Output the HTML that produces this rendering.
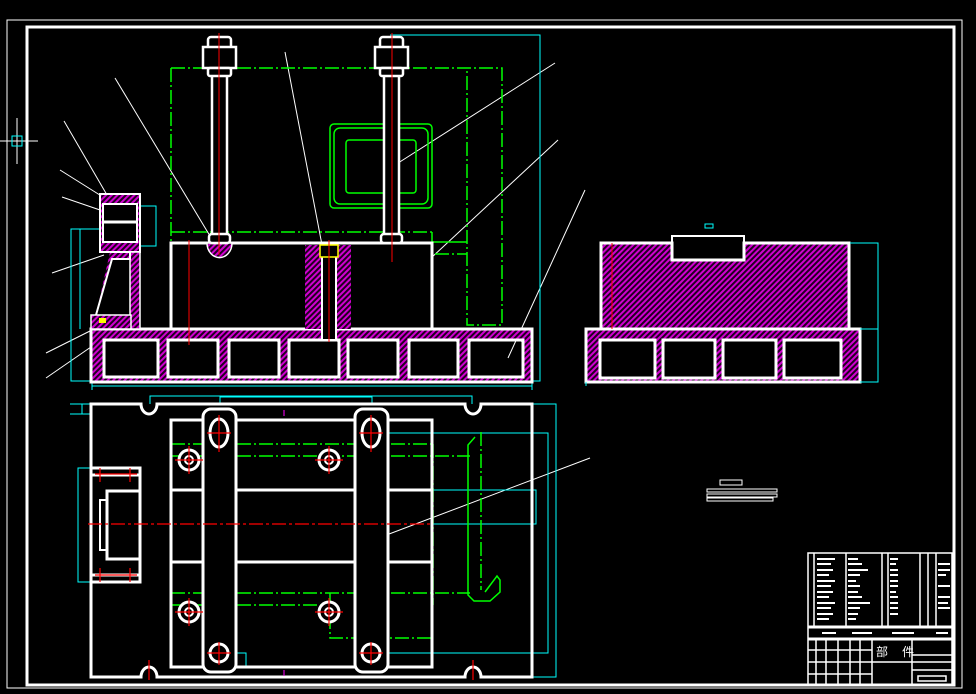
<!DOCTYPE html>
<html><head><meta charset="utf-8"><style>html,body{margin:0;padding:0;background:#000;}svg{display:block}</style></head>
<body>
<svg width="976" height="694" viewBox="0 0 976 694" xmlns="http://www.w3.org/2000/svg">
<defs>
<pattern id="h" width="4" height="4" patternUnits="userSpaceOnUse" patternTransform="rotate(45)">
<rect width="4" height="4" fill="#200020"/><rect width="2" height="4" fill="#d000d0"/>
</pattern>
</defs>
<rect width="976" height="694" fill="#000"/>
<!-- borders -->
<rect x="7" y="20" width="955" height="668" fill="none" stroke="#fff" stroke-width="1"/>
<rect x="27" y="27" width="927" height="658" fill="none" stroke="#fff" stroke-width="3"/>
<line x1="0" y1="141" x2="38" y2="141" stroke="#fff"/><line x1="17" y1="118" x2="17" y2="164" stroke="#fff"/>
<rect x="12" y="136" width="10" height="10" fill="none" stroke="#0ff"/>

<g fill="none" stroke="#fff" stroke-width="1">
<line x1="115" y1="78" x2="210" y2="236"/><line x1="285" y1="52" x2="322" y2="245"/>
<line x1="555" y1="63" x2="395" y2="165"/><line x1="558" y1="140" x2="402" y2="285"/>
<line x1="585" y1="190" x2="508" y2="358"/>
<line x1="64" y1="121" x2="107" y2="195"/><line x1="60" y1="170" x2="103" y2="197"/>
<line x1="62" y1="197" x2="100" y2="210"/><line x1="52" y1="273" x2="104" y2="255"/>
<line x1="46" y1="353" x2="92" y2="330"/><line x1="46" y1="378" x2="104" y2="338"/>
<line x1="590" y1="458" x2="368" y2="542"/>
</g>

<g fill="none" stroke="#0f0" stroke-width="1.5" stroke-dasharray="14,3,2,3">
<path d="M171 68 H502 V325 H467 V68"/><line x1="171" y1="68" x2="171" y2="243"/>
<line x1="171" y1="232" x2="433" y2="232"/><line x1="171" y1="254" x2="467" y2="254"/>
</g>
<g fill="none" stroke="#0f0" stroke-width="1.5">
<rect x="330" y="124" width="102" height="84" rx="4"/><rect x="334" y="128" width="94" height="76" rx="6"/>
<rect x="346" y="140" width="70" height="53" rx="3"/>
<path d="M432 232 V242 H467"/>
</g>

<g fill="none" stroke="#0ff" stroke-width="1">
<path d="M390 35 H540 V381 H532"/><line x1="92" y1="386" x2="532" y2="386"/>
<line x1="92" y1="382" x2="92" y2="390"/><line x1="532" y1="382" x2="532" y2="390"/>
<path d="M104 229 H71 V381 H92"/><line x1="80" y1="229" x2="80" y2="329"/>
<rect x="138" y="206" width="18" height="40"/>
</g>

<path d="M91 329 H532 V382 H91 Z M104 340 V377 H158 V340 Z M168 340 V377 H218 V340 Z M229 340 V377 H279 V340 Z M289 340 V377 H339 V340 Z M348 340 V377 H398 V340 Z M409 340 V377 H458 V340 Z M469 340 V377 H523 V340 Z" fill="url(#h)" fill-rule="evenodd" stroke="#fff" stroke-width="3"/>
<g fill="none" stroke="#fff" stroke-width="2.5">
<rect x="104" y="340" width="54" height="37" rx="3"/><rect x="168" y="340" width="50" height="37" rx="3"/>
<rect x="229" y="340" width="50" height="37" rx="3"/><rect x="289" y="340" width="50" height="37" rx="3"/>
<rect x="348" y="340" width="50" height="37" rx="3"/><rect x="409" y="340" width="49" height="37" rx="3"/>
<rect x="469" y="340" width="54" height="37" rx="3"/>
</g>
<rect x="171" y="243" width="261" height="86" fill="#000" stroke="#fff" stroke-width="3"/>
<rect x="305" y="245" width="46" height="84" fill="url(#h)"/>
<rect x="322" y="245" width="14" height="95" fill="#000" stroke="#fff" stroke-width="2"/>
<rect x="320" y="245" width="18" height="12" fill="#000" stroke="#ff0" stroke-width="1.5"/>
<path d="M207 243 A12 14 0 0 0 232 243 Z" fill="url(#h)" stroke="#fff" stroke-width="1.5"/>
<g fill="#000" stroke="#fff" stroke-width="2.5">
<rect x="212" y="60" width="15" height="183"/><rect x="384" y="60" width="15" height="183"/>
<rect x="208" y="37" width="23" height="13" rx="3"/><rect x="380" y="37" width="23" height="13" rx="3"/>
<rect x="203" y="47" width="33" height="21"/><rect x="375" y="47" width="33" height="21"/>
<rect x="208" y="68" width="23" height="8" rx="2"/><rect x="380" y="68" width="23" height="8" rx="2"/>
<rect x="209" y="234" width="21" height="9" rx="3"/><rect x="381" y="234" width="21" height="9" rx="3"/>
</g>
<g stroke="#f00" stroke-width="1"><line x1="219" y1="33" x2="219" y2="255"/><line x1="392" y1="33" x2="392" y2="262"/><line x1="329" y1="240" x2="329" y2="342"/><line x1="189" y1="240" x2="189" y2="345"/></g>
<rect x="100" y="194" width="40" height="58" fill="url(#h)" stroke="#fff" stroke-width="2"/>
<rect x="103" y="204" width="34" height="38" fill="#000" stroke="#fff" stroke-width="2"/>
<line x1="103" y1="222" x2="137" y2="222" stroke="#fff" stroke-width="3"/>
<rect x="130" y="252" width="10" height="77" fill="url(#h)" stroke="#fff" stroke-width="1.5"/>
<path d="M110 252 H130 V259 H112 L96 315" fill="url(#h)" stroke="#fff" stroke-width="2"/>
<rect x="91" y="315" width="40" height="14" fill="url(#h)" stroke="#fff" stroke-width="1.5"/>
<rect x="99" y="318" width="7" height="5" fill="#ff0"/>

<path d="M601 243 H672 V260 H744 V243 H849 V329 H601 Z" fill="url(#h)" stroke="#fff" stroke-width="3"/>
<rect x="672" y="236" width="72" height="24" fill="none" stroke="#fff" stroke-width="2"/>
<path d="M586 329 H860 V382 H586 Z M600 340 V378 H655 V340 Z M663 340 V378 H715 V340 Z M723 340 V378 H776 V340 Z M784 340 V378 H841 V340 Z" fill="url(#h)" fill-rule="evenodd" stroke="#fff" stroke-width="3"/>
<g fill="none" stroke="#fff" stroke-width="2.5"><rect x="600" y="340" width="55" height="38" rx="3"/><rect x="663" y="340" width="52" height="38" rx="3"/><rect x="723" y="340" width="53" height="38" rx="3"/><rect x="784" y="340" width="57" height="38" rx="3"/></g>
<g fill="none" stroke="#0ff"><path d="M850 243 H878 V329 H860"/><path d="M860 329 H878 V382 H860"/><line x1="586" y1="382" x2="586" y2="386"/><rect x="705" y="224" width="8" height="4"/></g>
<line x1="612" y1="243" x2="612" y2="329" stroke="#f00"/>

<g fill="none" stroke="#0ff">
<path d="M150 404 V396 H472 V404"/><path d="M220 404 V397 H372 V404"/>
<path d="M91 404 H70 M82 404 V414 M70 414 H91"/>
<path d="M91 468 H78 V582 H91"/>
<path d="M532 404 H556 V677 H532"/><path d="M371 433 H548 V653 H371"/>
<path d="M432 490 H536 V524 H432"/><path d="M236 653 H246 V666"/>
</g>
<g fill="none" stroke="#0f0" stroke-width="1.5" stroke-dasharray="14,3,2,3">
<line x1="171" y1="444" x2="432" y2="444"/><line x1="171" y1="456" x2="470" y2="456"/>
<line x1="171" y1="593" x2="470" y2="593"/><line x1="171" y1="605" x2="330" y2="605"/>
<path d="M330 593 V638 H432"/><line x1="433" y1="444" x2="433" y2="605"/>
<line x1="481" y1="432" x2="481" y2="590"/>
</g>
<path d="M475 437 L468 445 V595 L474 601 H490 L500 592 V580 L497 576 L485 592" fill="none" stroke="#0f0" stroke-width="1.5"/>
<path d="M91 404 H141 A8 10 0 0 0 157 404 H465 A8 10 0 0 0 481 404 H532 V677 H481 A8 10 0 0 0 465 677 H157 A8 10 0 0 0 141 677 H91 Z" fill="none" stroke="#fff" stroke-width="3"/>
<rect x="171" y="420" width="261" height="247" fill="none" stroke="#fff" stroke-width="3"/>
<line x1="171" y1="490" x2="432" y2="490" stroke="#fff" stroke-width="3"/><line x1="171" y1="562" x2="432" y2="562" stroke="#fff" stroke-width="3"/>
<rect x="203" y="409" width="33" height="263" rx="8" fill="#000" stroke="#fff" stroke-width="3"/>
<rect x="355" y="409" width="33" height="263" rx="8" fill="#000" stroke="#fff" stroke-width="3"/>
<rect x="91" y="468" width="49" height="114" fill="none" stroke="#fff" stroke-width="3"/>
<rect x="107" y="491" width="33" height="68" fill="none" stroke="#fff" stroke-width="3"/>
<rect x="100" y="500" width="7" height="50" fill="none" stroke="#fff" stroke-width="2"/>
<line x1="91" y1="475" x2="140" y2="475" stroke="#fff" stroke-width="3"/><line x1="91" y1="575" x2="140" y2="575" stroke="#fff" stroke-width="3"/>
<g fill="#000" stroke="#fff" stroke-width="3">
<circle cx="189" cy="460" r="10"/><circle cx="329" cy="460" r="10"/><circle cx="189" cy="612" r="10"/><circle cx="329" cy="612" r="10"/>
<ellipse cx="219" cy="433" rx="9" ry="14"/><ellipse cx="371" cy="433" rx="9" ry="14"/>
<circle cx="219" cy="653" r="9"/><circle cx="371" cy="653" r="9"/>
</g>
<g fill="none" stroke="#fff" stroke-width="2"><circle cx="189" cy="460" r="4"/><circle cx="329" cy="460" r="4"/><circle cx="189" cy="612" r="4"/><circle cx="329" cy="612" r="4"/></g>
<g stroke="#f00" stroke-width="1.2">
<line x1="88" y1="524" x2="432" y2="524" stroke-dasharray="14,3,3,3"/>
<line x1="175" y1="460" x2="203" y2="460"/><line x1="189" y1="446" x2="189" y2="474"/>
<line x1="315" y1="460" x2="343" y2="460"/><line x1="329" y1="446" x2="329" y2="474"/>
<line x1="175" y1="612" x2="203" y2="612"/><line x1="189" y1="598" x2="189" y2="626"/>
<line x1="315" y1="612" x2="343" y2="612"/><line x1="329" y1="598" x2="329" y2="626"/>
<line x1="207" y1="433" x2="231" y2="433"/><line x1="219" y1="415" x2="219" y2="452"/>
<line x1="359" y1="433" x2="383" y2="433"/><line x1="371" y1="415" x2="371" y2="452"/>
<line x1="207" y1="653" x2="231" y2="653"/><line x1="219" y1="642" x2="219" y2="665"/>
<line x1="359" y1="653" x2="383" y2="653"/><line x1="371" y1="642" x2="371" y2="665"/>
<line x1="149" y1="660" x2="149" y2="680"/><line x1="473" y1="660" x2="473" y2="680"/>
<line x1="95" y1="474" x2="137" y2="474"/><line x1="95" y1="575" x2="137" y2="575"/>
<line x1="100" y1="468" x2="100" y2="482"/><line x1="130" y1="468" x2="130" y2="482"/>
<line x1="100" y1="568" x2="100" y2="582"/><line x1="130" y1="568" x2="130" y2="582"/>
</g>
<line x1="284" y1="410" x2="284" y2="416" stroke="#f0f"/><line x1="284" y1="670" x2="284" y2="676" stroke="#f0f"/>

<g fill="none" stroke="#fff"><rect x="720" y="480" width="22" height="5"/><rect x="707" y="489" width="70" height="3"/><rect x="707" y="494" width="70" height="3"/><rect x="707" y="498" width="66" height="3"/></g>

<g fill="none" stroke="#fff" stroke-width="1.5">
<rect x="808" y="553" width="144" height="132"/>
<line x1="808" y1="627" x2="952" y2="627" stroke-width="3"/><line x1="808" y1="639" x2="952" y2="639" stroke-width="3"/>
<line x1="814" y1="553" x2="814" y2="627"/><line x1="846" y1="553" x2="846" y2="627"/><line x1="882" y1="553" x2="882" y2="627"/>
<line x1="888" y1="553" x2="888" y2="627"/><line x1="920" y1="553" x2="920" y2="627"/><line x1="928" y1="553" x2="928" y2="627"/><line x1="936" y1="553" x2="936" y2="627"/>
<line x1="872" y1="639" x2="872" y2="685"/><line x1="912" y1="639" x2="912" y2="685"/>
<line x1="872" y1="662" x2="952" y2="662"/>
<line x1="816" y1="639" x2="816" y2="685"/><line x1="826" y1="639" x2="826" y2="685"/><line x1="838" y1="639" x2="838" y2="685"/><line x1="850" y1="639" x2="850" y2="685"/><line x1="860" y1="639" x2="860" y2="685"/>
<line x1="808" y1="650" x2="872" y2="650"/><line x1="808" y1="662" x2="872" y2="662"/><line x1="808" y1="674" x2="872" y2="674"/>
<line x1="912" y1="655" x2="952" y2="655"/><line x1="912" y1="670" x2="952" y2="670"/>
<rect x="918" y="676" width="28" height="5"/>
</g>
<g stroke="#fff" stroke-width="2">
<path d="M817 559h18M817 564h14M817 570h16M817 575h12M817 581h18M817 586h14M817 592h16M817 597h12M817 603h18M817 608h14M817 614h16M817 619h12"/>
<path d="M848 559h10M848 564h14M848 570h20M848 575h12M848 581h8M848 586h12M848 592h10M848 597h14M848 603h22M848 608h12M848 614h10M848 619h8"/>
<path d="M890 559h8M890 564h6M890 570h8M890 575h8M890 581h8M890 586h8M890 592h6M890 597h8M890 603h8M890 608h8M890 614h8"/>
<path d="M938 564h12M938 570h12M938 575h8M938 586h12M938 597h12M938 603h10M938 608h12"/>
<path d="M822 633h14M852 633h20M892 633h22M936 633h12"/>
</g>
<text x="876" y="656" font-family="'Liberation Sans','Noto Sans CJK SC',sans-serif" font-size="12" fill="#fff" letter-spacing="14">部件</text>
</svg>
</body></html>
